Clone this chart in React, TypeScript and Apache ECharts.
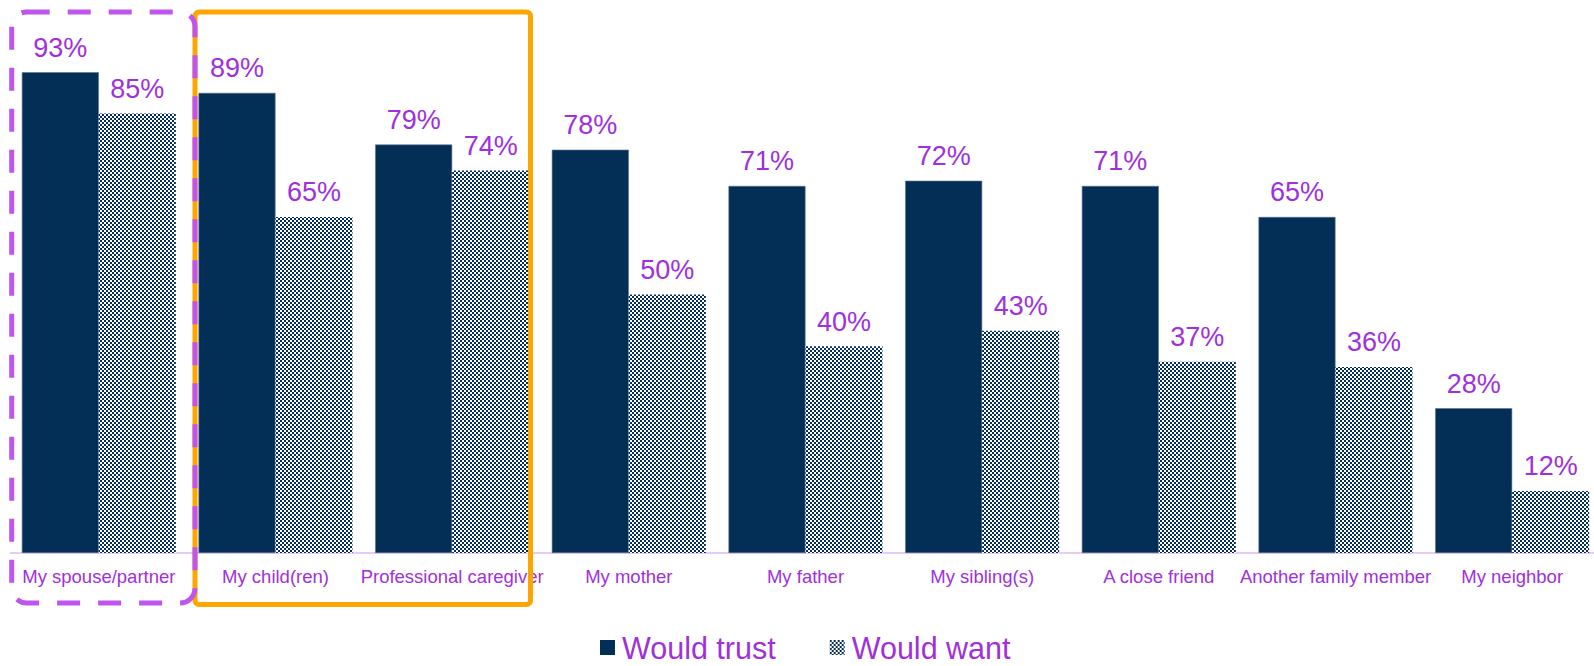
import React, { useEffect, useRef } from "react";
import * as echarts from "echarts";

const categories = [
  "My spouse/partner",
  "My child(ren)",
  "Professional caregiver",
  "My mother",
  "My father",
  "My sibling(s)",
  "A close friend",
  "Another family member",
  "My neighbor",
];
const wouldTrust = [93, 89, 79, 78, 71, 72, 71, 65, 28];
const wouldWant = [85, 65, 74, 50, 40, 43, 37, 36, 12];
const seriesNames = ["Would trust", "Would want"];

const NAVY = "#032e55";
const PURPLE = "#a030dc";
const FONT = "Liberation Sans, Arial, sans-serif";

function makePattern(): HTMLCanvasElement {
  const c = document.createElement("canvas");
  c.width = 4;
  c.height = 4;
  const ctx = c.getContext("2d")!;
  ctx.fillStyle = "#ffffff";
  ctx.fillRect(0, 0, 4, 4);
  ctx.fillStyle = NAVY;
  ctx.fillRect(0, 0, 2, 2);
  ctx.fillRect(2, 2, 2, 2);
  return c;
}

export default function App() {
  const ref = useRef<HTMLDivElement>(null);
  useEffect(() => {
    if (!ref.current) return;
    const chart = echarts.init(ref.current, undefined, { renderer: "svg" });
    const pattern = makePattern();
    const patternColor: any = {
      image: pattern,
      repeat: "repeat",
      imageWidth: 4,
      imageHeight: 4,
    };
    const labelCfg = {
      show: true,
      position: "top" as const,
      distance: 11,
      formatter: "{c}%",
      color: PURPLE,
      fontSize: 27,
      fontFamily: FONT,
    };
    chart.setOption({
      animation: false,
      textStyle: { fontFamily: FONT },
      grid: { left: 10.5, width: 1590, top: 36, bottom: 113 },
      legend: {
        data: seriesNames,
        left: 600,
        top: 632,
        padding: 0,
        itemWidth: 15,
        itemHeight: 15,
        itemGap: 54,
        icon: "rect",
        itemStyle: { borderWidth: 0 },
        textStyle: {
          color: PURPLE,
          fontSize: 30.5,
          lineHeight: 30,
          fontFamily: FONT,
          padding: [0, 0, 0, 2],
        },
      },
      xAxis: {
        type: "category",
        data: categories,
        axisLine: { lineStyle: { color: "#e6ccf5", width: 2 } },
        axisTick: { show: false },
        axisLabel: {
          color: PURPLE,
          fontSize: 18.5,
          margin: 14,
          interval: 0,
          fontFamily: FONT,
        },
      },
      yAxis: {
        type: "value",
        min: 0,
        max: 100,
        show: false,
        splitLine: { show: false },
      },
      series: [
        {
          name: seriesNames[0],
          type: "bar",
          data: wouldTrust,
          barWidth: 77,
          barGap: "0%",
          itemStyle: { color: NAVY, borderColor: "#5b7190", borderWidth: 0.6 },
          label: labelCfg,
        },
        {
          name: seriesNames[1],
          type: "bar",
          data: wouldWant,
          barWidth: 77,
          barGap: "0%",
          itemStyle: { color: patternColor },
          label: labelCfg,
        },
      ],
      graphic: [
        {
          type: "rect",
          shape: { x: 195, y: 12, width: 335.5, height: 592.5, r: 4 },
          style: { fill: "none", stroke: "#ffa500", lineWidth: 5 },
          z: 10,
        },
        {
          type: "rect",
          shape: { x: 11.7, y: 12, width: 183.3, height: 591, r: 15 },
          style: { fill: "none", stroke: "#bf55ec", lineWidth: 5, lineDash: [23, 18] },
          z: 11,
        },
      ],
    });
    return () => chart.dispose();
  }, []);
  return (
    <div
      ref={ref}
      style={{ position: "fixed", left: 0, top: 0, width: 1610, height: 666, background: "#fff" }}
    />
  );
}
